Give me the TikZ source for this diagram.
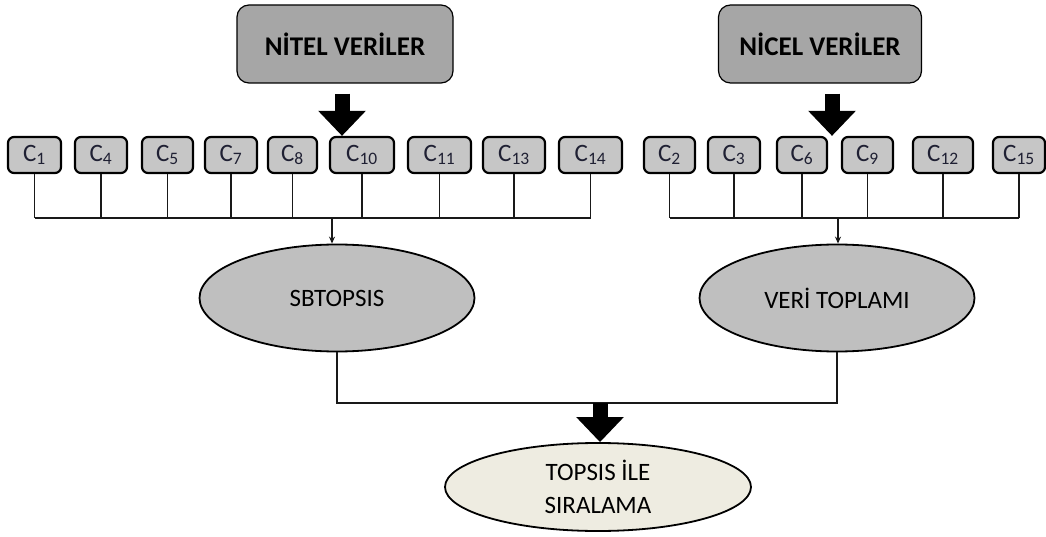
\documentclass[tikz,border=0pt]{standalone}
\usepackage{fontspec}
\setmainfont{Carlito}
\usepackage[dvipsnames]{xcolor}
\definecolor{koyugri}{HTML}{A6A6A6}
\definecolor{acikgri}{HTML}{BFBFBF}
\definecolor{kutugri}{HTML}{C6C6C6}
\definecolor{bej}{HTML}{EEECE1}
\definecolor{lacivert}{HTML}{1F2033}
\usetikzlibrary{positioning, arrows.meta, shapes.geometric}
\tikzstyle{kaynak} = [draw=black, line width=1.2pt, rounded corners=12pt, fill=koyugri, minimum width=216pt, minimum height=78pt, font=\fontsize{27}{32}\selectfont\bfseries]
\tikzstyle{kriter} = [draw=black, line width=2.2pt, rounded corners=6pt, fill=kutugri, minimum height=36pt, inner sep=0pt, text=lacivert, font=\fontsize{25}{30}\selectfont]
\tikzstyle{yontem} = [draw=black, line width=1.8pt, ellipse, fill=acikgri, minimum width=275pt, minimum height=107pt, font=\fontsize{25}{30}\selectfont]
\tikzstyle{sonuc} = [yontem, fill=bej, minimum width=306pt, minimum height=88pt, align=center, font=\fontsize{25}{33}\selectfont]
\tikzstyle{kalinok} = [draw=black, line width=15pt, -{Triangle[width=46pt, length=25pt]}]
\tikzstyle{hat} = [draw=black!90, line width=1.1pt]

\begin{document}
\begin{tikzpicture}[x=1pt, y=-1pt]
	\useasboundingbox (0,0) rectangle (1046,537);
	%veri kaynaklari
	\node[kaynak] (nitel) at (345,44) {NİTEL VERİLER};
	\node[kaynak, minimum width=203pt] (nicel) at (820,44) {NİCEL VERİLER};
	\coordinate (nitelok) at ([xshift=-3pt, yshift=-10pt]nitel.south);
	\coordinate (nicelok) at ([xshift=12pt, yshift=-10pt]nicel.south);

	%kriterler
	\foreach \ad/\x/\w in {1/34.5/53, 4/101/52, 5/167.5/51, 7/231/52, 8/292.5/49, 10/362/64, 11/439.5/63, 13/514/62, 14/590.5/63}
		\node[kriter, minimum width=\w pt] (c\ad) at (\x,155) {C\textsubscript{\ad}};
	\foreach \ad/\x/\w in {2/669.5/51, 3/734/52, 6/802/50, 9/867.5/51, 12/943/60, 15/1019/52}
		\node[kriter, minimum width=\w pt] (c\ad) at (\x,155) {C\textsubscript{\ad}};

	%yontemler
	\node[yontem] (sbtopsis) at (337,298) {SBTOPSIS};
	\node[yontem] (veri) at (837,298) {VERİ TOPLAMI};
	\node[sonuc] (topsis) at (598,487) {TOPSIS İLE\\SIRALAMA};

	%baglantilar
	\coordinate (solhat) at (332,218);
	\coordinate (saghat) at (838,218);
	\coordinate (birlesim) at (600,403);
	\foreach \ad in {1,4,5,7,8,10,11,13,14}
		\draw[hat] (c\ad.south) -- (c\ad.south |- solhat);
	\foreach \ad in {2,3,6,9,12,15}
		\draw[hat] (c\ad.south) -- (c\ad.south |- saghat);
	\draw[hat] (c1.south |- solhat) -- (c14.south |- solhat);
	\draw[hat] (c2.south |- saghat) -- (c15.south |- saghat);
	\draw[hat, -{Stealth[length=7pt, width=6pt]}] (solhat) -- (solhat |- sbtopsis.north);
	\draw[hat, -{Stealth[length=7pt, width=6pt]}] (saghat) -- (saghat |- veri.north);
	\draw[hat] (sbtopsis.south) |- (birlesim) -| (veri.south);

	%kalin oklar
	\draw[kalinok] (nitelok) -- (nitelok |- c10.north);
	\draw[kalinok] (nicelok) -- (nicelok |- c6.north);
	\draw[kalinok] (birlesim) -- (birlesim |- topsis.north);
\end{tikzpicture}
\end{document}
